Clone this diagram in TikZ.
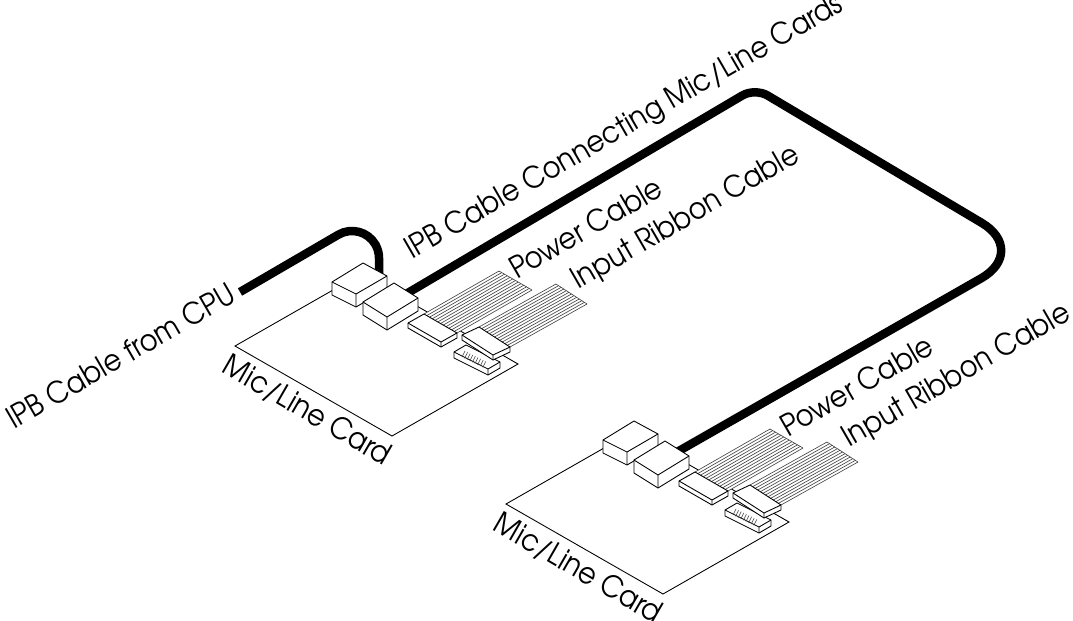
\documentclass[tikz,border=0pt]{standalone}
\usepackage{fontspec}
\setmainfont{TeX Gyre Adventor}[FakeStretch=0.91]
\usetikzlibrary{calc, backgrounds}

\tikzset{
  board/.style={draw=black, line width=0.5pt},
  part/.style={draw=black, fill=white, line width=0.5pt, line join=round},
  wire/.style={black!75, line width=0.35pt},
  cable/.style={black, line width=0.17cm},
  label/.style={font=\fontsize{17}{20}\selectfont, inner sep=0pt, anchor=base west},
}

% box seen from above: left, back, right, front corner of the top face, height
\newcommand{\isoblock}[5]{%
  \filldraw[part] #1 -- #2 -- #3 -- ($#3+(0,#5)$) -- ($#4+(0,#5)$) -- ($#1+(0,#5)$) -- cycle;
  \draw[part, fill=none] #1 -- #4 -- #3 #4 -- ($#4+(0,#5)$);
}

% flat cable: two ends of the near edge, length vector
\newcommand{\ribboncable}[3]{%
  \fill[white] #1 -- #2 -- ++#3 -- ($#1+#3$) -- cycle;
  \foreach \k in {0,...,12} \draw[wire] ($#1!\k/12!#2$) -- ++#3;
  \draw[wire] ($#1+#3$) -- ($#2+#3$);
}

\newcommand{\linecard}[1]{%
  % board
  \draw[board] (235,346) -- (392,436) -- (518,364) -- (361,274) -- cycle;
  % IPB connectors
  \isoblock{(332,282)}{(363,263)}{(387,276)}{(356,294)}{13}
  \isoblock{(363,302)}{(394,283)}{(418,298)}{(387,317)}{13}
  \coordinate (#1-cpu) at (379,276);
  \coordinate (#1-ipb) at (406,294);
  % power cable
  \ribboncable{(424,314)}{(457,333)}{(75,-43)}
  \isoblock{(408,323)}{(424,314)}{(457,333)}{(441,342)}{5}
  % input header and plug
  \isoblock{(454,352)}{(466,345)}{(500,362)}{(488,369)}{6}
  \foreach \k in {0,...,8} \draw[wire] ($(462,357)+(2.6*\k,1.3*\k)$) -- ++(3,-6);
  \ribboncable{(479,327)}{(510,347)}{(77,-43)}
  \isoblock{(462,335)}{(479,327)}{(510,347)}{(493,355)}{5}
  % labels
  \node[label, rotate=-30, anchor=north west] (#1-name) at (232,352) {Mic/Line Card};
  \node[label, rotate=30] (#1-pwr) at (517,280) {Power Cable};
  \node[label, rotate=30] (#1-inp) at (578,290) {Input Ribbon Cable};
}

\begin{document}
\begin{tikzpicture}[x=0.02cm, y=-0.02cm]
  \useasboundingbox (0,0) rectangle (1073,620);

  % first card
  \linecard{c1}

  % second card
  \begin{scope}[shift={(271,158)}]
    \linecard{c2}
  \end{scope}

  % IPB cables, behind the connectors
  \begin{scope}[on background layer]
    \draw[cable] (240,292) coordinate (cpu) -- (338.5,234.6)
      arc[start angle=240, end angle=360, radius=27] -- (c1-cpu);
    \draw[cable] (c1-ipb) [rounded corners=0.29cm] -- (755,88)
      [rounded corners=1.1cm] -- (1029,251) -- (c2-ipb);
  \end{scope}

  \node[label, rotate=30] (cpu-label) at (14,430) {IPB Cable from CPU};
  \node[label, rotate=30] (ipb-label) at (412,260) {IPB Cable Connecting Mic/Line Cards};
\end{tikzpicture}
\end{document}
